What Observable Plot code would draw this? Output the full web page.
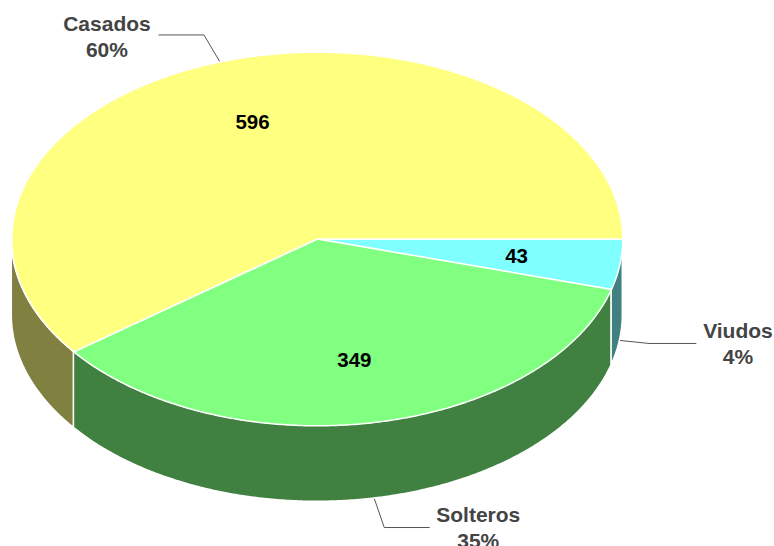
<!DOCTYPE html>
<html>
<head>
<meta charset="utf-8">
<script src="https://cdn.jsdelivr.net/npm/d3@7"></script>
<script src="https://cdn.jsdelivr.net/npm/@observablehq/plot@0.6"></script>
<style>
html,body{margin:0;padding:0;background:#fff;overflow:hidden}
svg{display:block}
</style>
</head>
<body>
<div id="chart"></div>
<script>
const categories = ["Viudos", "Solteros", "Casados"];
const values = [43, 349, 596];
const topColors = ["#80FFFF", "#80FF80", "#FFFF80"];
const sideColors = ["#408080", "#408040", "#808040"];
// leader elbow and end offsets from the slice's rim point, and label centre offset from leader end
const leaderElbow = [[29, 3], [10, 29], [-16, -27]];
const leaderEnd = [[76, 3], [55, 29], [-61, -27]];
const labelOffset = [[42, -1], [49, -1], [-52, 1]];

const W = 774, H = 546;
const cx = 316.8, cy = 238.5, rx = 305.5, ry = 186.8, depth = 76;
const FONT = "'Liberation Sans', Arial, sans-serif";

const total = d3.sum(values);
const px = (t, r = 1) => cx + rx * r * Math.cos(t * Math.PI / 180);
const py = (t, r = 1) => cy + ry * r * Math.sin(t * Math.PI / 180);

let acc = 0;
const slices = categories.map((name, i) => {
  const start = acc / total * 360;
  acc += values[i];
  const end = acc / total * 360;
  return {name, value: values[i], start, end, mid: (start + end) / 2,
          top: topColors[i], side: sideColors[i], i};
});

const arcAngles = (a, b) => {
  const n = Math.max(2, Math.ceil((b - a) / 0.5));
  return d3.range(n + 1).map(k => a + (b - a) * k / n);
};

const topRows = slices.flatMap(s => [
  {s: s.name, x: cx, y: cy, fill: s.top},
  ...arcAngles(s.start, s.end).map(t => ({s: s.name, x: px(t), y: py(t), fill: s.top})),
  {s: s.name, x: cx, y: cy, fill: s.top}
]);

const sideRows = slices.flatMap(s => {
  const a = s.start, b = Math.min(s.end, 180);
  if (b <= a) return [];
  return arcAngles(a, b).map(t => ({s: s.name, x: px(t), y1: py(t), y2: py(t) + depth, fill: s.side}));
});

const rim = s => {
  const front = s.mid < 180;
  return [px(s.mid), py(s.mid) + (front ? depth : 0)];
};
const leaderRows = slices.flatMap(s => {
  const [x0, y0] = rim(s);
  return [
    {s: s.name, x: x0, y: y0},
    {s: s.name, x: x0 + leaderElbow[s.i][0], y: y0 + leaderElbow[s.i][1]},
    {s: s.name, x: x0 + leaderEnd[s.i][0], y: y0 + leaderEnd[s.i][1]}
  ];
});

const outerLabels = slices.map(s => {
  const [x0, y0] = rim(s);
  return {
    x: x0 + leaderEnd[s.i][0] + labelOffset[s.i][0],
    y: y0 + leaderEnd[s.i][1] + labelOffset[s.i][1],
    text: `${s.name}\n${Math.round(s.value / total * 100)}%`
  };
});

const innerLabels = slices.map(s => ({x: px(s.mid, 0.66) - 0.5, y: py(s.mid, 0.66) + 0.5, text: String(s.value)}));

const chart = Plot.plot({
  width: W, height: H,
  margin: 0,
  style: {background: "#fff"},
  x: {domain: [0, W], range: [0, W], axis: null},
  y: {domain: [0, H], range: [0, H], axis: null},
  marks: [
    Plot.line(leaderRows, {x: "x", y: "y", z: "s", stroke: "#555", strokeWidth: 1, curve: "linear"}),
    Plot.area(sideRows, {x1: "x", y1: "y1", x2: "x", y2: "y2", z: "s", fill: "fill", stroke: "#fff", strokeWidth: 1.5, curve: "linear"}),
    Plot.line(topRows, {x: "x", y: "y", z: "s", fill: "fill", stroke: "#fff", strokeWidth: 1.5, curve: "linear"}),
    Plot.text(innerLabels, {x: "x", y: "y", text: "text", fill: "#000", fontSize: 20.5, fontWeight: "bold", fontFamily: FONT}),
    Plot.text(outerLabels, {x: "x", y: "y", text: "text", fill: "#444", fontSize: 21, fontWeight: "bold", fontFamily: FONT, lineHeight: 1.24})
  ]
});
document.getElementById("chart").append(chart);
</script>
</body>
</html>
